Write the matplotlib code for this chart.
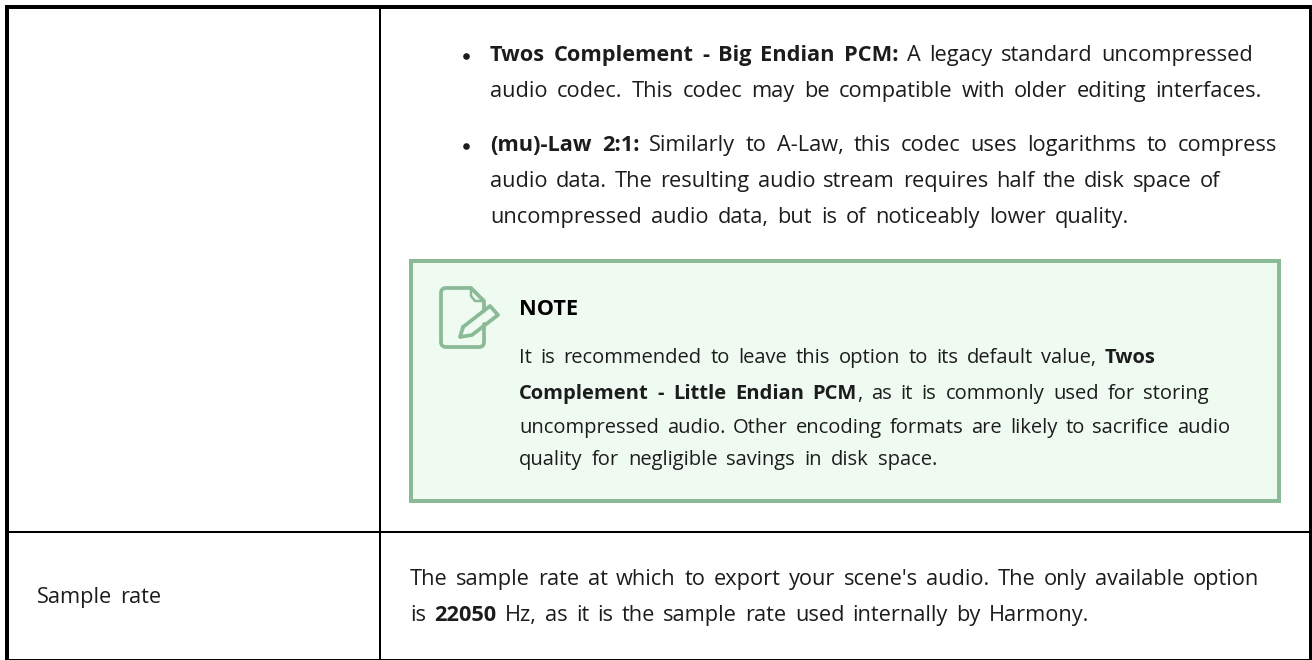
"""Rebuild of a documentation table row with a green note box."""
import matplotlib
matplotlib.use("Agg")
import matplotlib.pyplot as plt
from matplotlib.patches import PathPatch, Rectangle
from matplotlib.path import Path

W, H = 1312, 660
FONT = "Open Sans"
BODY_SIZE = 15.7
NOTE_SIZE = 14.5
TEXT_COLOR = "#1c1c1c"
GREEN = "#8aba96"
NOTE_BG = "#effbf1"

# each line: x, baseline, right edge, runs of (text, bold)
bullet_lines = [
    (490, 61, 1253, [("Twos Complement - Big Endian PCM:", True), (" A legacy standard uncompressed", False)]),
    (490, 97, 1262, [("audio codec. This codec may be compatible with older editing interfaces.", False)]),
    (490, 151, 1277, [("(mu)-Law 2:1:", True), (" Similarly to A-Law, this codec uses logarithms to compress", False)]),
    (490, 187, 1220, [("audio data. The resulting audio stream requires half the disk space of", False)]),
    (490, 223, 1129, [("uncompressed audio data, but is of noticeably lower quality.", False)]),
]
note_lines = [
    (519, 363, 1156, [("It is recommended to leave this option to its default value, ", False), ("Twos", True)]),
    (519, 399, 1209, [("Complement - Little Endian PCM", True), (", as it is commonly used for storing", False)]),
    (519, 433, 1230, [("uncompressed audio. Other encoding formats are likely to sacrifice audio", False)]),
    (519, 465, 937, [("quality for negligible savings in disk space.", False)]),
]
rate_lines = [
    (410, 585, 1259, [("The sample rate at which to export your scene's audio. The only available option", False)]),
    (410, 621, 1089, [("is ", False), ("22050", True), (" Hz, as it is the sample rate used internally by Harmony.", False)]),
]
label_lines = [(37, 603, 161, [("Sample rate", False)])]
bullets = [(466, 56), (466, 146)]

fig = plt.figure(figsize=(W / 100, H / 100), dpi=100)
ax = fig.add_axes([0, 0, 1, 1])
ax.set_xlim(0, W)
ax.set_ylim(H, 0)
ax.axis("off")
renderer = fig.canvas.get_renderer()


def box(x0, y0, x1, y1, color):
    ax.add_patch(Rectangle((x0, y0), x1 - x0, y1 - y0, fc=color, ec="none", zorder=1))


def text_width(s, size, bold):
    t = ax.text(0, 0, s, fontsize=size, family=FONT,
                fontweight="bold" if bold else "normal")
    w = t.get_window_extent(renderer).width
    t.remove()
    return w


def draw_line(line, size):
    # words are spread a little so the line ends where the reference does
    x, base, right, runs = line
    words = []
    prev_space = True
    for s, bold in runs:
        parts = s.split()
        for i, p in enumerate(parts):
            glued = i == 0 and not prev_space and s[0] != " "
            words.append((p, bold, glued))
        prev_space = s[-1] == " "
    total = sum(text_width(w, size, b) for w, b, _ in words)
    gaps = sum(1 for w in words[1:] if not w[2])
    space = (right - x - total) / max(gaps, 1)
    for i, (w, b, glued) in enumerate(words):
        if i and not glued:
            x += space
        ax.text(x, base, w, fontsize=size, family=FONT, color=TEXT_COLOR,
                fontweight="bold" if b else "normal", va="baseline", zorder=3)
        x += text_width(w, size, b)


def stroke(verts, codes, lw=2.7):
    ax.add_patch(PathPatch(Path(verts, codes), fc="none", ec=GREEN, lw=lw,
                           capstyle="round", joinstyle="round", zorder=2))


# table rules
box(5, 5, W, 9, "black")
box(5, 5, 9, H, "black")
box(1309, 5, 1312, H, "black")
box(379, 5, 381, H, "black")
box(5, 531, W, 533, "black")
box(5, 659, W, 660, "black")

# note box
box(409, 259, 1281, 503, GREEN)
box(413, 263, 1277, 499, NOTE_BG)

# note icon
M, L, C = Path.MOVETO, Path.LINETO, Path.CURVE3
stroke([(471, 288), (446, 288), (441, 288), (441, 293), (441, 342), (441, 347), (446, 347),
        (479, 347), (484, 347), (484, 342), (484, 324)],
       [M, L, C, C, L, C, C, L, C, C, L])
stroke([(471, 288), (484, 301), (484, 311)], [M, L, L])
stroke([(471, 288), (471, 296), (475, 301), (484, 301)], [M, L, L, L], lw=1.8)
stroke([(463, 327), (490, 306), (498, 315), (472, 335), (460, 337), (463, 327)], [M, L, L, L, L, L])

for line in bullet_lines + rate_lines + label_lines:
    draw_line(line, BODY_SIZE)
for line in note_lines:
    draw_line(line, NOTE_SIZE)
ax.text(519, 315, "NOTE", fontsize=BODY_SIZE, family=FONT, fontweight="bold",
        color="black", va="baseline", zorder=3)
ax.scatter([b[0] for b in bullets], [b[1] for b in bullets], s=14, color=TEXT_COLOR, zorder=3)

fig.savefig("out.png", dpi=100)
